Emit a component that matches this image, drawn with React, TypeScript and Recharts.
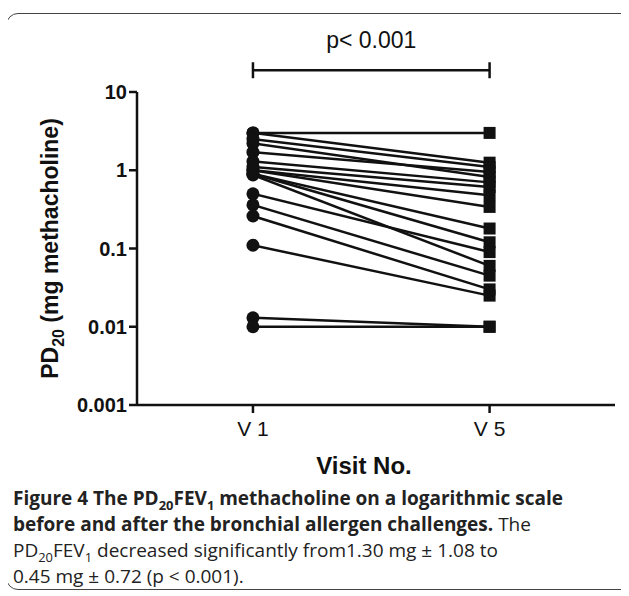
import React from "react";
import { LineChart, Line, XAxis, YAxis, ReferenceLine } from "recharts";

const visits = ["V 1", "V 5"];
const v1Values = [3, 3, 2.5, 2.2, 1.7, 1.3, 1.1, 1.0, 1.0, 0.9, 0.87, 0.9, 0.5, 0.36, 0.26, 0.11, 0.013, 0.01];
const v5Values = [3, 1.25, 1.1, 0.82, 0.95, 0.7, 0.61, 0.48, 0.34, 0.18, 0.06, 0.12, 0.09, 0.045, 0.03, 0.025, 0.01, 0.01];
const yTicks = [0.001, 0.01, 0.1, 1, 10];
const yTickLabels = ["0.001", "0.01", "0.1", "1", "10"];

const AXIS_FONT = "'Liberation Sans', Arial, sans-serif";

const subjects = v1Values.map((v, i) => [
  { x: 1, y: v },
  { x: 2, y: v5Values[i] },
]);

const PairDot = (props: any) => {
  const { cx, cy, payload, index } = props;
  if (cx == null || cy == null) return null;
  if (payload.x === 1) {
    return <circle key={`c-${index}`} cx={cx} cy={cy} r={6.5} fill="#111" />;
  }
  return <rect key={`s-${index}`} x={cx - 6} y={cy - 6} width={12} height={12} fill="#111" />;
};

const YLabel = (props: any) => {
  const { viewBox } = props;
  const cx = viewBox.x + 50;
  const cy = viewBox.y + viewBox.height / 2;
  return (
    <text
      x={cx}
      y={cy}
      transform={`rotate(-90 ${cx} ${cy})`}
      textAnchor="middle"
      fontFamily={AXIS_FONT}
      fontWeight="bold"
      fontSize={23}
      fill="#111"
    >
      PD<tspan fontSize={16} dy={6}>20</tspan>
      <tspan dy={-6}> (mg  methacholine)</tspan>
    </text>
  );
};

const XLabel = (props: any) => {
  const { viewBox } = props;
  return (
    <text
      x={viewBox.x + viewBox.width / 2 - 12}
      y={viewBox.y + 69}
      textAnchor="middle"
      fontFamily={AXIS_FONT}
      fontWeight="bold"
      fontSize={24}
      fill="#111"
    >
      Visit No.
    </text>
  );
};

const subStyle = { fontSize: "0.68em", lineHeight: 0 };

export default function App() {
  return (
    <div style={{ position: "relative", width: 621, height: 588 }}>
      <div
        style={{
          position: "absolute",
          left: -2,
          top: 5,
          width: 640,
          height: 577,
          border: "1.5px solid #444",
          borderRadius: 12,
          boxSizing: "border-box",
        }}
      />
      <div style={{ position: "absolute", left: 0, top: 0 }}>
        <LineChart
          width={607}
          height={480}
          margin={{ top: 84, right: 0, bottom: 10, left: 0 }}
        >
          <XAxis
            type="number"
            dataKey="x"
            domain={[0.51, 2.53]}
            ticks={[1, 2]}
            allowDataOverflow
            tickFormatter={(t: number) => visits[t - 1]}
            tick={{ fontFamily: AXIS_FONT, fontSize: 21, fill: "#111" }}
            tickSize={8}
            tickMargin={8}
            stroke="#111"
            strokeWidth={2.5}
            height={73}
            label={<XLabel />}
          />
          <YAxis
            type="number"
            scale="log"
            domain={[0.001, 10]}
            ticks={yTicks}
            allowDataOverflow
            tickFormatter={(t: number) => yTickLabels[yTicks.indexOf(t)]}
            tick={{ fontFamily: AXIS_FONT, fontSize: 20, fontWeight: "bold", fill: "#111" }}
            tickSize={8}
            tickMargin={2}
            stroke="#111"
            strokeWidth={2.5}
            width={129}
            label={<YLabel />}
          />
          <ReferenceLine
            segment={[{ x: 1, y: 19 }, { x: 2, y: 19 }]}
            stroke="#111"
            strokeWidth={2.5}
            ifOverflow="visible"
            label={{
              value: "p< 0.001",
              position: "top",
              offset: 22,
              fontFamily: AXIS_FONT,
              fontSize: 23,
              fill: "#111",
            }}
          />
          <ReferenceLine
            segment={[{ x: 1, y: 15 }, { x: 1, y: 24 }]}
            stroke="#111"
            strokeWidth={2.5}
            ifOverflow="visible"
          />
          <ReferenceLine
            segment={[{ x: 2, y: 15 }, { x: 2, y: 24 }]}
            stroke="#111"
            strokeWidth={2.5}
            ifOverflow="visible"
          />
          {subjects.map((pts, i) => (
            <Line
              key={i}
              data={pts}
              dataKey="y"
              stroke="#111"
              strokeWidth={2.5}
              dot={<PairDot />}
              activeDot={false}
              isAnimationActive={false}
            />
          ))}
        </LineChart>
      </div>
      <div
        style={{
          position: "absolute",
          left: 5,
          top: 477,
          fontFamily: "'Open Sans', sans-serif",
          fontSize: 19,
          lineHeight: "26px",
          color: "#222",
          whiteSpace: "nowrap",
        }}
      >
        <b>
          Figure 4 The PD<sub style={subStyle}>20</sub>FEV
          <sub style={subStyle}>1</sub> methacholine on a logarithmic scale
          <br />
          before and after the bronchial allergen challenges.
        </b>{" "}
        The
        <br />
        PD<sub style={subStyle}>20</sub>FEV
        <sub style={subStyle}>1</sub> decreased significantly from1.30 mg ± 1.08 to
        <br />
        0.45 mg ± 0.72 (p &lt; 0.001).
      </div>
    </div>
  );
}
